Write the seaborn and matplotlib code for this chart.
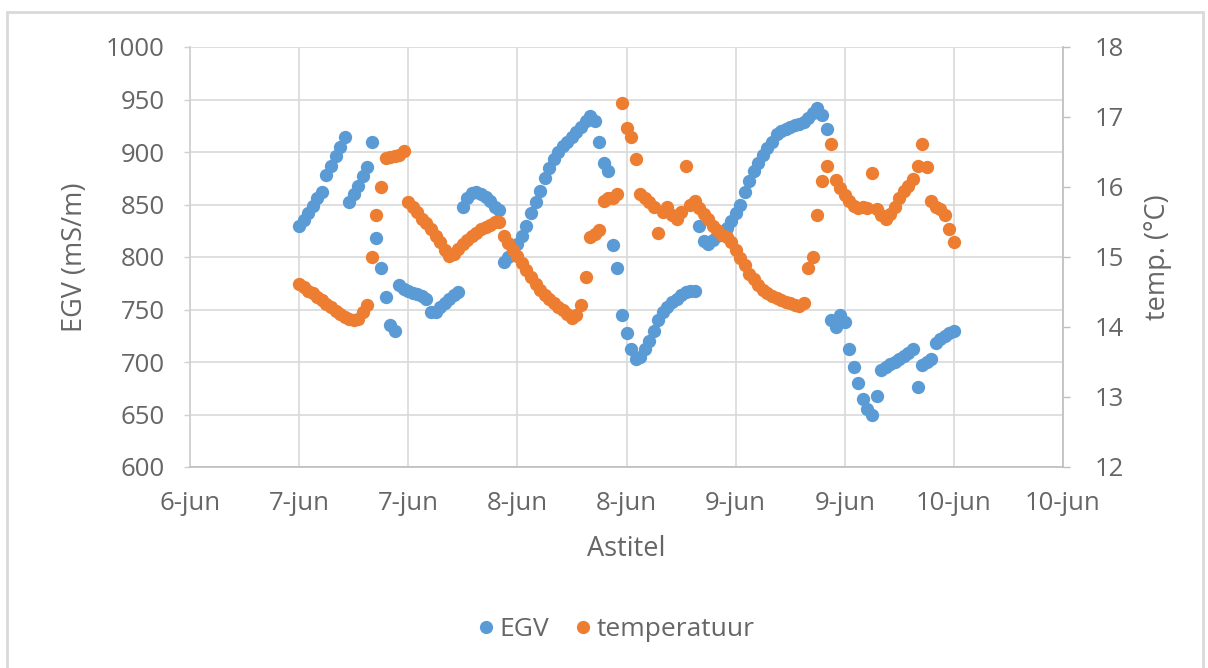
import numpy as np
import pandas as pd
import matplotlib
matplotlib.use("Agg")
import matplotlib.pyplot as plt
from matplotlib.lines import Line2D
from matplotlib.patches import Rectangle
from matplotlib.ticker import FixedLocator, FixedFormatter
import seaborn as sns

# Logger readings, one every 30 minutes from 7 June 05:00 to 10 June 05:00
start_time = "2016-06-07 05:00"
interval = "30min"

egv = [
    830, 835, 842, 849, 856, 862, 878, 887, 896, 905, 914,
    852, 860, 868, 877, 886, 910,
    818, 790, 762, 735, 730,
    773, 770, 768, 766, 765, 763, 760, 748, 748, 752, 756, 760, 764, 767,
    848, 856, 861, 862, 860, 857, 853, 848,
    845, 795, 800, 806, 812, 820, 830, 842, 852, 863, 875, 885, 893, 900,
    906, 910, 914, 919, 924, 930, 934, 930,
    910, 890, 882, 811, 790, 745, 728, 712, 703, 705, 712, 720, 730, 740,
    748, 752, 757, 760, 764, 767, 768, 768,
    830, 815, 812, 816, 820, 824, 828, 834, 842, 850, 862, 872, 882, 890,
    897, 904, 910, 917, 920, 922, 924, 926, 927, 929, 932, 937, 942, 935, 922,
    740, 733, 745, 738, 712, 695, 680, 665, 655, 650, 668, 692, 695, 698,
    700, 703, 706, 709, 712, 676, 697, 700, 703, 718, 722, 725, 728, 730,
]

temperatuur = [
    14.62, 14.57, 14.52, 14.48, 14.43, 14.38, 14.33, 14.28, 14.23, 14.18,
    14.15, 14.12, 14.10, 14.12, 14.22, 14.32,
    15.00, 15.60, 16.00, 16.42, 16.43, 16.44, 16.46, 16.52,
    15.78, 15.72, 15.65, 15.55, 15.48, 15.40, 15.30, 15.22, 15.10, 15.02,
    15.05, 15.12, 15.18, 15.25, 15.30, 15.35, 15.40, 15.43, 15.46, 15.50, 15.50,
    15.30, 15.20, 15.10, 15.02, 14.92, 14.82, 14.72, 14.62, 14.53, 14.46,
    14.40, 14.34, 14.29, 14.24, 14.18, 14.13, 14.17, 14.32,
    14.72, 15.28, 15.33, 15.38, 15.80, 15.85, 15.85, 15.90, 17.20, 16.85,
    16.72, 16.40, 15.90, 15.85, 15.78, 15.72, 15.35, 15.65, 15.72, 15.60,
    15.55, 15.65, 16.30, 15.75, 15.80,
    15.70, 15.62, 15.55, 15.45, 15.38, 15.32, 15.28, 15.22, 15.10, 14.98,
    14.88, 14.76, 14.68, 14.60, 14.53, 14.48, 14.44, 14.41, 14.38, 14.36,
    14.34, 14.32, 14.30, 14.35,
    14.85, 15.00, 15.60, 16.08, 16.30, 16.62, 16.10, 15.98, 15.88, 15.80,
    15.73, 15.70, 15.72, 15.70, 16.20, 15.68, 15.60, 15.55, 15.62, 15.72,
    15.85, 15.95, 16.02, 16.12, 16.30, 16.62, 16.28, 15.80, 15.72, 15.68,
    15.60, 15.40, 15.22,
]

tick_labels = ["6-jun", "7-jun", "7-jun", "8-jun", "8-jun",
               "9-jun", "9-jun", "10-jun", "10-jun"]
axis_start = "2016-06-06 17:00"

egv_ticks = [600, 650, 700, 750, 800, 850, 900, 950, 1000]
temp_ticks = [12, 13, 14, 15, 16, 17, 18]

BLUE = "#5B9BD5"
ORANGE = "#ED7D31"
GRID = "#d9d9d9"
TEXT = "#666666"

tijd = pd.date_range(start_time, periods=len(egv), freq=interval)
df = pd.DataFrame({"tijd": tijd, "EGV": egv, "temperatuur": temperatuur})

sns.set_theme(style="white")
plt.rcParams["font.family"] = ["Open Sans", "DejaVu Sans"]

fig = plt.figure(figsize=(12.08, 6.68), dpi=100)
ax = fig.add_axes([190 / 1208, 1 - 467 / 668, (1063 - 190) / 1208, (467 - 47) / 668])
ax2 = ax.twinx()

sns.scatterplot(data=df, x="tijd", y="EGV", ax=ax, color=BLUE, s=92,
                linewidth=0, legend=False, zorder=3)
sns.scatterplot(data=df, x="tijd", y="temperatuur", ax=ax2, color=ORANGE,
                s=92, linewidth=0, legend=False, zorder=3)

tick_times = pd.date_range(axis_start, periods=len(tick_labels), freq="12h")
tick_pos = matplotlib.dates.date2num(tick_times.to_pydatetime())
ax.set_xlim(tick_pos[0], tick_pos[-1])
ax.xaxis.set_major_locator(FixedLocator(tick_pos))
ax.xaxis.set_major_formatter(FixedFormatter(tick_labels))

ax.set_ylim(600, 1000)
ax.set_yticks(egv_ticks)
ax2.set_ylim(12, 18)
ax2.set_yticks(temp_ticks)

ax.grid(True, color=GRID, linewidth=1.2)
ax.set_axisbelow(True)
ax2.grid(False)

for a in (ax, ax2):
    for side in ("top", "left", "right", "bottom"):
        a.spines[side].set_visible(False)
ax.spines["bottom"].set_visible(True)
ax.spines["bottom"].set_color("#bfbfbf")
ax.spines["left"].set_visible(True)
ax.spines["left"].set_color("#d0d0d0")
ax2.spines["right"].set_visible(True)
ax2.spines["right"].set_color("#bfbfbf")

fs = 18.5
ax.tick_params(axis="x", colors=TEXT, labelsize=fs, length=0, pad=17)
ax.tick_params(axis="y", colors=TEXT, labelsize=fs, length=4, width=1,
               direction="out", pad=14)
ax.tick_params(axis="y", color="#d0d0d0")
ax2.tick_params(axis="y", colors=TEXT, labelsize=fs, length=5, width=1,
                direction="out", pad=18)
ax2.tick_params(axis="y", color="#bfbfbf")

ax.set_xlabel("Astitel", color=TEXT, fontsize=19.5, labelpad=14)
ax.set_ylabel("EGV (mS/m)", color=TEXT, fontsize=19.5, labelpad=12)
ax2.set_ylabel("temp. (°C)", color=TEXT, fontsize=19.5, labelpad=14)

handles = [
    Line2D([], [], linestyle="none", marker="o", markersize=9.5,
           markerfacecolor=BLUE, markeredgewidth=0, label="EGV"),
    Line2D([], [], linestyle="none", marker="o", markersize=9.5,
           markerfacecolor=ORANGE, markeredgewidth=0, label="temperatuur"),
]
fig.legend(handles=handles, loc="center", bbox_to_anchor=(616 / 1208, 1 - 630 / 668),
           ncol=2, frameon=False, fontsize=19, handlelength=0.6,
           handletextpad=0.2, columnspacing=1.0, labelcolor=TEXT)

fig.patches.append(Rectangle((7 / 1208, -0.05), (1203 - 7) / 1208, 1.05 - 12 / 668,
                             transform=fig.transFigure, fill=False,
                             edgecolor="#d9d9d9", linewidth=2))

fig.savefig("out.png", dpi=100, facecolor="white")
